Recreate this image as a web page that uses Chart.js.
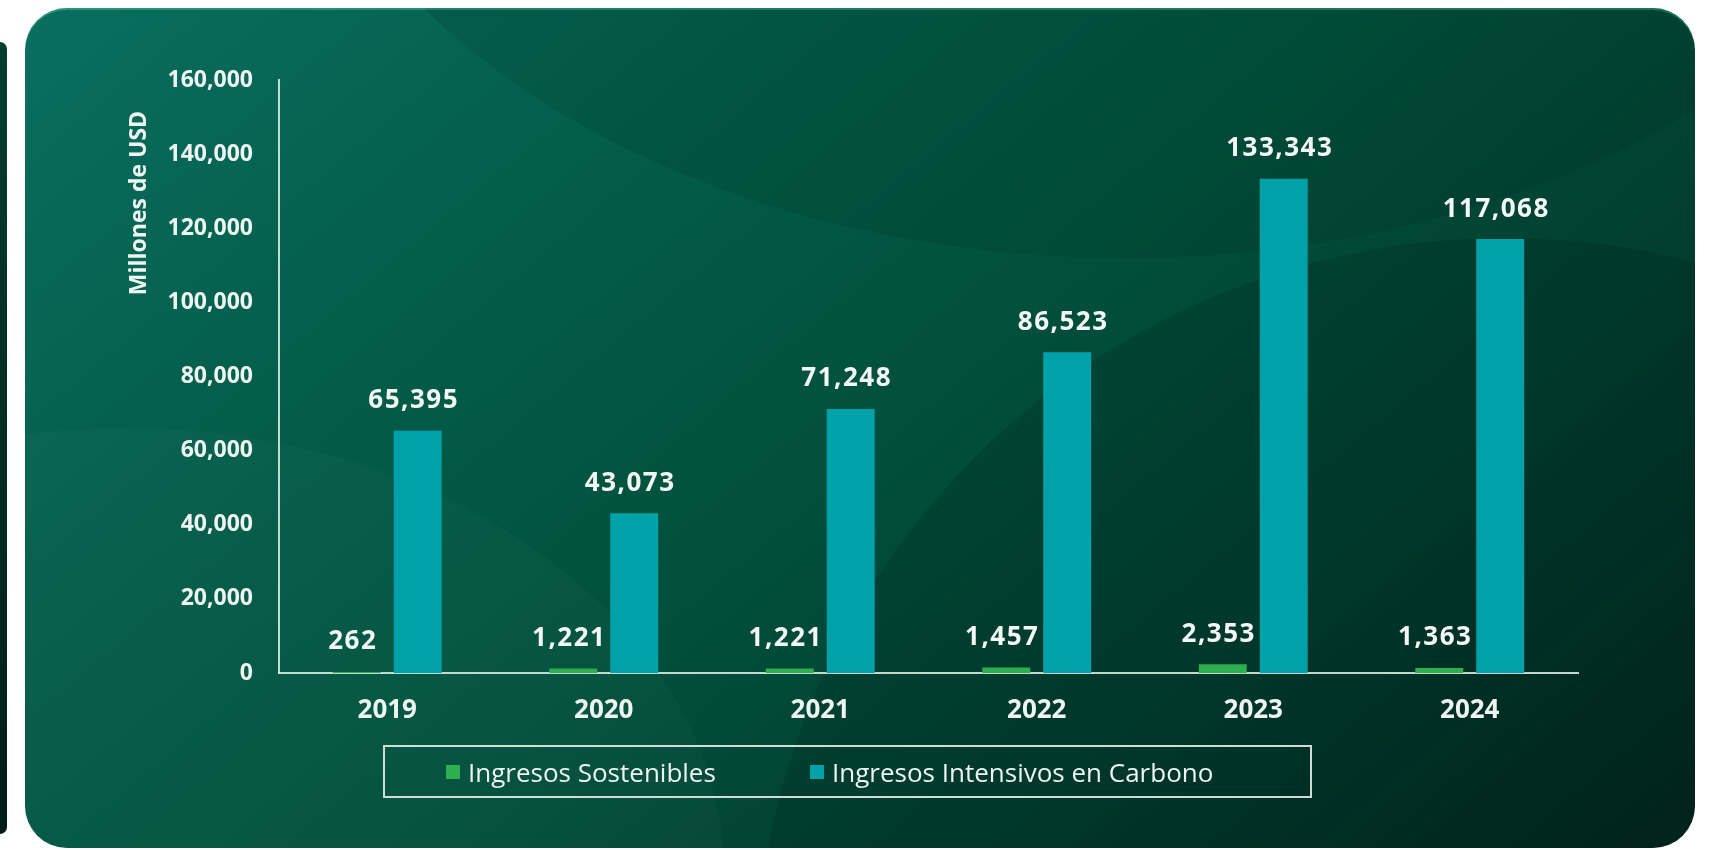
<!DOCTYPE html>
<html lang="es">
<head>
    <meta charset="UTF-8">
    <meta name="viewport" content="width=device-width, initial-scale=1.0">
    <title>Ingresos Sostenibles vs Intensivos en Carbono</title>

    <!-- Chart.js -->
    <script src="https://cdn.jsdelivr.net/npm/chart.js"></script>

    <style>
        html, body { margin: 0; padding: 0; background: #fff; }
        body { width: 1714px; height: 850px; position: relative; overflow: hidden; font-family: "Open Sans", sans-serif; }

        /* edge of the previous panel on the left */
        .side {
            position: absolute; left: 0; top: 42px; width: 7px; height: 792px;
            background: linear-gradient(#053d31, #011d17);
            border-radius: 0 14px 14px 0;
        }

        .card {
            position: absolute; left: 25px; top: 8px; width: 1670px; height: 840px;
            border-radius: 42px; overflow: hidden;
            background: linear-gradient(140deg, #0a6e5f 0%, #035d49 28%, #01503d 50%, #013c2f 75%, #01241b 100%);
            box-shadow: inset 0 2px 0 rgba(80, 190, 160, 0.45);
        }
        .card .blob {
            position: absolute; border-radius: 50%;
        }
        .blob.a { left: 730px; top: 230px; width: 1500px; height: 1500px; background: rgba(0, 25, 18, 0.16); }
        .blob.b { left: 250px; top: -900px; width: 1700px; height: 1150px; background: rgba(0, 30, 22, 0.12); }
        .blob.c { left: -500px; top: 420px; width: 1200px; height: 900px; background: rgba(255, 255, 255, 0.025); }

        #chart { position: absolute; left: 0; top: 0; }

        .legend {
            position: absolute; left: 383px; top: 745px; width: 864px; height: 49px;
            border: 2px solid rgba(228, 238, 233, 0.9);
            display: flex; align-items: center; padding-left: 61px;
        }
        .legend .item { display: flex; align-items: center; color: #eef4f1; font-size: 26px; }
        .legend .item:first-child { width: 364px; }
        .legend .swatch { width: 14px; height: 14px; margin-right: 8px; }
    </style>
</head>
<body>
    <div class="side"></div>
    <div class="card">
        <div class="blob b"></div>
        <div class="blob a"></div>
        <div class="blob c"></div>
    </div>

    <canvas id="chart" width="1714" height="850"></canvas>
    <div class="legend" id="legend"></div>

    <script>
        // data
        const years = ['2019', '2020', '2021', '2022', '2023', '2024'];
        const sostenibles = [262, 1221, 1221, 1457, 2353, 1363];
        const carbono = [65395, 43073, 71248, 86523, 133343, 117068];
        const yTicks = [0, 20000, 40000, 60000, 80000, 100000, 120000, 140000, 160000];

        const fmt = v => v.toLocaleString('en-US');
        const white = '#eef4f1';

        Chart.defaults.font.family = '"Open Sans", sans-serif';

        // value labels over each bar + the rotated y title
        const valueLabels = {
            id: 'valueLabels',
            afterDatasetsDraw(chart) {
                const ctx = chart.ctx;
                ctx.save();
                ctx.font = 'bold 26px "Open Sans"';
                ctx.fillStyle = '#f4f7f5';
                ctx.textAlign = 'center';
                ctx.textBaseline = 'middle';
                ctx.letterSpacing = '1.5px';
                chart.data.datasets.forEach((ds, i) => {
                    chart.getDatasetMeta(i).data.forEach((bar, j) => {
                        ctx.fillText(fmt(ds.data[j]), bar.x - 4, bar.y - 30);
                    });
                });

                const area = chart.chartArea;
                ctx.letterSpacing = '0px';
                ctx.font = 'bold 23px "Open Sans"';
                ctx.fillStyle = white;
                ctx.translate(area.left - 140, area.top + 123);
                ctx.rotate(-Math.PI / 2);
                ctx.fillText('Millones de USD', 0, 0);
                ctx.restore();
            }
        };

        const ctx = document.getElementById('chart').getContext('2d');
        const chart = new Chart(ctx, {
            type: 'bar',
            data: {
                labels: years,
                datasets: [
                    { label: 'Ingresos Sostenibles', data: sostenibles, backgroundColor: '#2dae4f' },
                    { label: 'Ingresos Intensivos en Carbono', data: carbono, backgroundColor: '#00a1a9' }
                ]
            },
            options: {
                responsive: false,
                animation: false,
                categoryPercentage: 0.563,
                barPercentage: 0.787,
                layout: { padding: { left: 139, top: 80, right: 136, bottom: 117 } },
                plugins: {
                    legend: { display: false },
                    tooltip: { enabled: false }
                },
                scales: {
                    x: {
                        grid: { display: false, drawTicks: false },
                        border: { color: 'rgba(215, 232, 226, 0.9)', width: 2 },
                        ticks: { color: white, padding: 22, font: { size: 26, weight: 'bold' } },
                        afterFit(s) { s.height = 60; }
                    },
                    y: {
                        min: 0,
                        max: 160000,
                        grid: { display: false, drawTicks: false },
                        border: { color: 'rgba(215, 232, 226, 0.9)', width: 2 },
                        afterBuildTicks(s) { s.ticks = yTicks.map(v => ({ value: v })); },
                        ticks: {
                            color: white, padding: 26,
                            font: { size: 23, weight: 'bold' },
                            callback: v => fmt(v)
                        },
                        afterFit(s) { s.width = 140; }
                    }
                }
            },
            plugins: [valueLabels]
        });

        // HTML legend built from the datasets
        const legend = document.getElementById('legend');
        chart.data.datasets.forEach(ds => {
            const item = document.createElement('div');
            item.className = 'item';
            item.innerHTML = '<span class="swatch" style="background:' + ds.backgroundColor + '"></span>' + ds.label;
            legend.appendChild(item);
        });
    </script>
</body>
</html>
